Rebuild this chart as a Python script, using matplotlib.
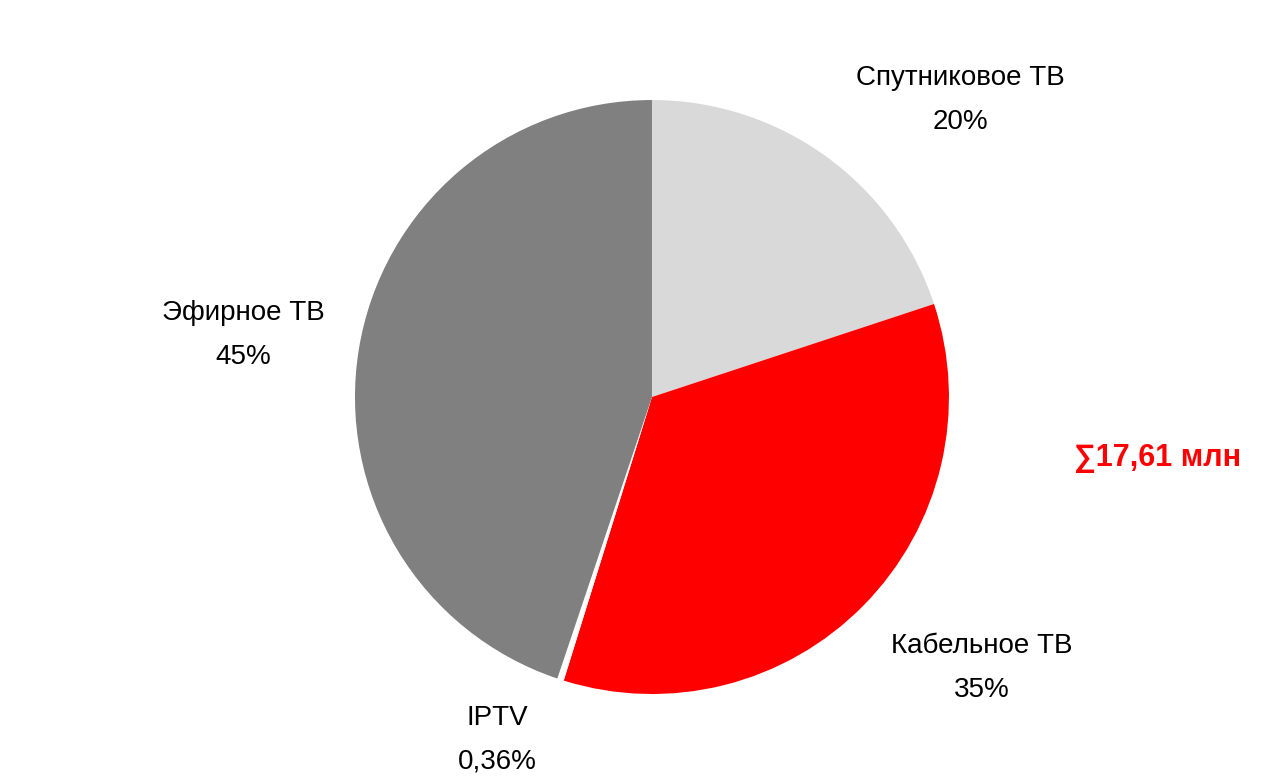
import matplotlib
matplotlib.use("Agg")
import matplotlib.pyplot as plt

# доли типов ТВ (по часовой стрелке от верха)
labels = ["Спутниковое ТВ", "Кабельное ТВ", "IPTV", "Эфирное ТВ"]
shares = [20, 35, 0.36, 45]
share_text = ["20%", "35%", "0,36%", "45%"]
colors = ["#d9d9d9", "#ff0000", "#ffffff", "#808080"]
total_text = "∑17,61 млн"

plt.rcParams["font.family"] = ["Liberation Sans", "DejaVu Sans"]

fig = plt.figure(figsize=(12.76, 7.79), dpi=100)
ax = fig.add_axes([0.2782, 0.1091, 0.4655, 0.7625])

wedges, _ = ax.pie(shares, colors=colors, startangle=90, counterclock=False,
                   radius=1.0, wedgeprops=dict(linewidth=0))
ax.set_xlim(-1, 1)
ax.set_ylim(-1, 1)
ax.set_aspect("equal")
ax.axis("off")

# позиции подписей
label_pos = [(1.037, 1.0), (1.111, -0.912), (-0.522, -1.155), (-1.377, 0.209)]
for name, pct, (x, y) in zip(labels, share_text, label_pos):
    ax.text(x, y, name + "\n" + pct, ha="center", va="center", fontsize=20,
            linespacing=1.88, clip_on=False)

ax.text(1.704, -0.205, total_text, ha="center", va="center", fontsize=22,
        fontweight="bold", color="#ff0000", clip_on=False)

fig.savefig("out.png", dpi=100, facecolor="white")
